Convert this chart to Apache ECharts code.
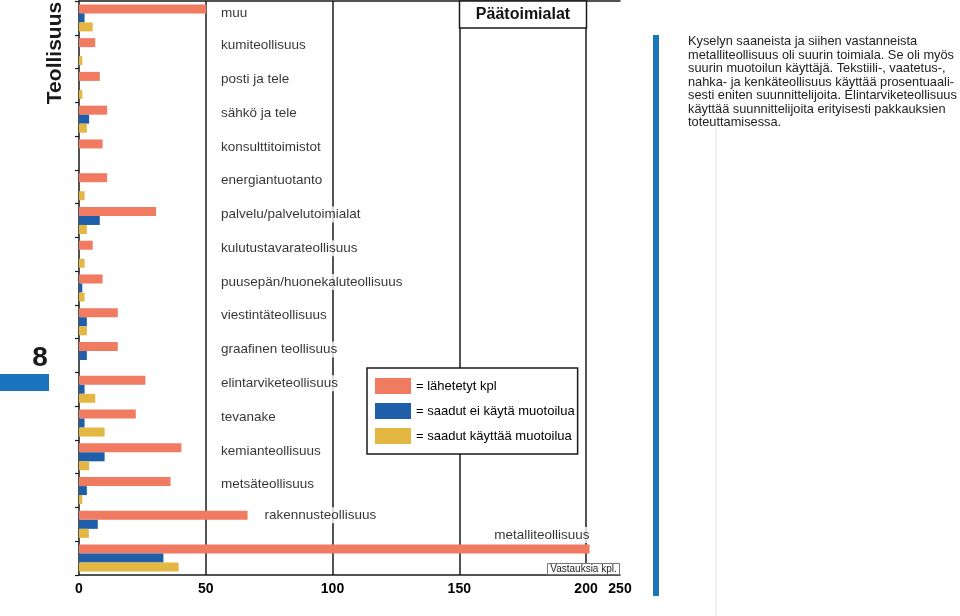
<!DOCTYPE html>
<html><head><meta charset="utf-8">
<script src="https://cdn.jsdelivr.net/npm/echarts@6/dist/echarts.min.js"></script>
<style>html,body{margin:0;padding:0;background:#fff}#c{width:960px;height:616px}</style>
</head><body><div id="c"></div>
<script>
const categories = ['muu','kumiteollisuus','posti ja tele','sähkö ja tele','konsulttitoimistot','energiantuotanto','palvelu/palvelutoimialat','kulutustavarateollisuus','puusepän/huonekaluteollisuus','viestintäteollisuus','graafinen teollisuus','elintarviketeollisuus','tevanake','kemianteollisuus','metsäteollisuus','rakennusteollisuus','metalliteollisuus'];
const lahetetyt = [50.2, 6.4, 8.2, 11.1, 9.3, 11.1, 30.4, 5.4, 9.3, 15.3, 15.3, 26.2, 22.4, 40.4, 36.1, 66.5, 201.4];
const eiKayta   = [2.2, 0, 0, 4.0, 0, 0, 8.2, 0, 1.3, 3.1, 3.1, 2.2, 2.2, 10.1, 3.1, 7.4, 33.3];
const kayttaa   = [5.4, 1.3, 1.3, 3.1, 0, 2.2, 3.1, 2.2, 2.2, 3.1, 0, 6.4, 10.1, 4.0, 1.3, 3.9, 39.3];
const seriesNames = ['lähetetyt kpl', 'saadut ei käytä muotoilua', 'saadut käyttää muotoilua'];
const xTickLabels = ['0', '50', '100', '150', '200', '250'];
const sectionTitle = 'Teollisuus';
const pageNumber = '8';
const boxTitle = 'Päätoimialat';
const unitNote = 'Vastauksia kpl.';
const bodyText = [
  'Kyselyn saaneista ja siihen vastanneista',
  'metalliteollisuus oli suurin toimiala. Se oli myös',
  'suurin muotoilun käyttäjä. Tekstiili-, vaatetus-,',
  'nahka- ja kenkäteollisuus käyttää prosentuaali-',
  'sesti eniten suunnittelijoita. Elintarviketeollisuus',
  'käyttää suunnittelijoita erityisesti pakkauksien',
  'toteuttamisessa.'
];

const FONT = '"Liberation Sans", Arial, Helvetica, sans-serif';
const colors = ['#F07B60', '#1F5EA8', '#E4B743'];
const lineColor = '#1a1a1a';
const X_MAX = 213.4;
const LABEL_X = 55;

const labelData = categories.map(function (c, i) {
  if (c === 'rakennusteollisuus') {
    return { value: [72.2, c], label: { offset: [0, -9] } };
  }
  if (c === 'metalliteollisuus') {
    return { value: [202.4, c], label: { position: 'left', offset: [0, -23] } };
  }
  if (i === 0) {
    return { value: [LABEL_X, c], label: { offset: [0, -5] } };
  }
  return { value: [LABEL_X, c] };
});

const chart = echarts.init(document.getElementById('c'), null, { renderer: 'canvas' });
chart.setOption({
  animation: false,
  color: colors,
  grid: { left: 79, right: 340, top: 1, bottom: 41, containLabel: false },
  legend: {
    orient: 'vertical', left: 367, top: 368,
    padding: [10, 3, 10, 8],
    itemWidth: 36, itemHeight: 16, itemGap: 9,
    icon: 'rect', selectedMode: false,
    backgroundColor: '#fff', borderColor: lineColor, borderWidth: 1.5,
    data: seriesNames,
    formatter: function (n) { return '= ' + n; },
    textStyle: { fontFamily: FONT, fontSize: 13, color: '#000' }
  },
  xAxis: [{
    type: 'value', min: 0, max: X_MAX, interval: 50, position: 'bottom',
    axisLine: { show: true, lineStyle: { color: lineColor, width: 1.5 } },
    axisTick: { show: false },
    axisLabel: {
      fontFamily: FONT, fontWeight: 'bold', fontSize: 14, color: '#000', margin: 7,
      formatter: function (v, i) { return xTickLabels[i] !== undefined ? xTickLabels[i] : String(v); }
    },
    splitLine: { show: true, showMinLine: false, showMaxLine: false, lineStyle: { color: lineColor, width: 1.5 } }
  }, {
    type: 'value', min: 0, max: X_MAX, position: 'top',
    axisLine: { show: true, lineStyle: { color: lineColor, width: 1.5 } },
    axisTick: { show: false }, axisLabel: { show: false }, splitLine: { show: false }
  }],
  yAxis: {
    type: 'category', data: categories, inverse: true,
    axisLine: { show: true, lineStyle: { color: lineColor, width: 1.5 } },
    axisTick: { show: true, inside: false, length: 4, lineStyle: { color: lineColor, width: 1.2 } },
    axisLabel: { show: false },
    splitLine: { show: false }
  },
  series: [
    { name: seriesNames[0], type: 'bar', data: lahetetyt, barWidth: 9, barGap: '0%' },
    { name: seriesNames[1], type: 'bar', data: eiKayta, barWidth: 9, barGap: '0%' },
    { name: seriesNames[2], type: 'bar', data: kayttaa, barWidth: 9, barGap: '0%' },
    {
      name: 'labels', type: 'scatter', data: labelData, symbolSize: 0,
      itemStyle: { color: '#000' }, silent: true, z: 5,
      label: {
        show: true, position: 'right', distance: 0.5, offset: [0, -6],
        formatter: function (p) { return p.value[1]; },
        fontFamily: FONT, fontSize: 13.5, color: '#000', textBorderWidth: 0,
        backgroundColor: '#fff', padding: [1, 2]
      }
    }
  ],
  graphic: [
    { type: 'text', x: 55, y: 53, rotation: Math.PI / 2, z: 10,
      style: { text: sectionTitle, font: 'bold 21px ' + FONT, fill: '#1a1a1a', align: 'center', verticalAlign: 'middle' } },
    { type: 'text', x: 40, y: 358, z: 10,
      style: { text: pageNumber, font: 'bold 28px ' + FONT, fill: '#1a1a1a', align: 'center', verticalAlign: 'middle' } },
    { type: 'rect', z: 10, shape: { x: 0, y: 374, width: 49, height: 17 }, style: { fill: '#1a73bd' } },
    { type: 'rect', z: 10, shape: { x: 459.5, y: 1, width: 127, height: 27 },
      style: { fill: '#fff', stroke: lineColor, lineWidth: 1.5 } },
    { type: 'text', x: 523, y: 15, z: 11,
      style: { text: boxTitle, font: 'bold 16px ' + FONT, fill: '#111', align: 'center', verticalAlign: 'middle' } },
    { type: 'rect', z: 10, shape: { x: 547.5, y: 563.5, width: 72, height: 11 },
      style: { fill: '#fff', stroke: '#777', lineWidth: 1 } },
    { type: 'text', x: 583.5, y: 569.5, z: 11,
      style: { text: unitNote, font: '10px ' + FONT, fill: '#222', align: 'center', verticalAlign: 'middle' } },
    { type: 'rect', z: 10, shape: { x: 653, y: 35, width: 6, height: 561 }, style: { fill: '#1a75bb' } },
    { type: 'line', z: 9, shape: { x1: 716, y1: 128, x2: 716, y2: 616 }, style: { stroke: '#e2e2e2', lineWidth: 1 } },
    { type: 'text', x: 688, y: 35, z: 10,
      style: { text: bodyText.join('\n'), font: '12.8px ' + FONT, lineHeight: 13.5, fill: '#222', align: 'left', verticalAlign: 'top' } }
  ]
});
</script></body></html>
